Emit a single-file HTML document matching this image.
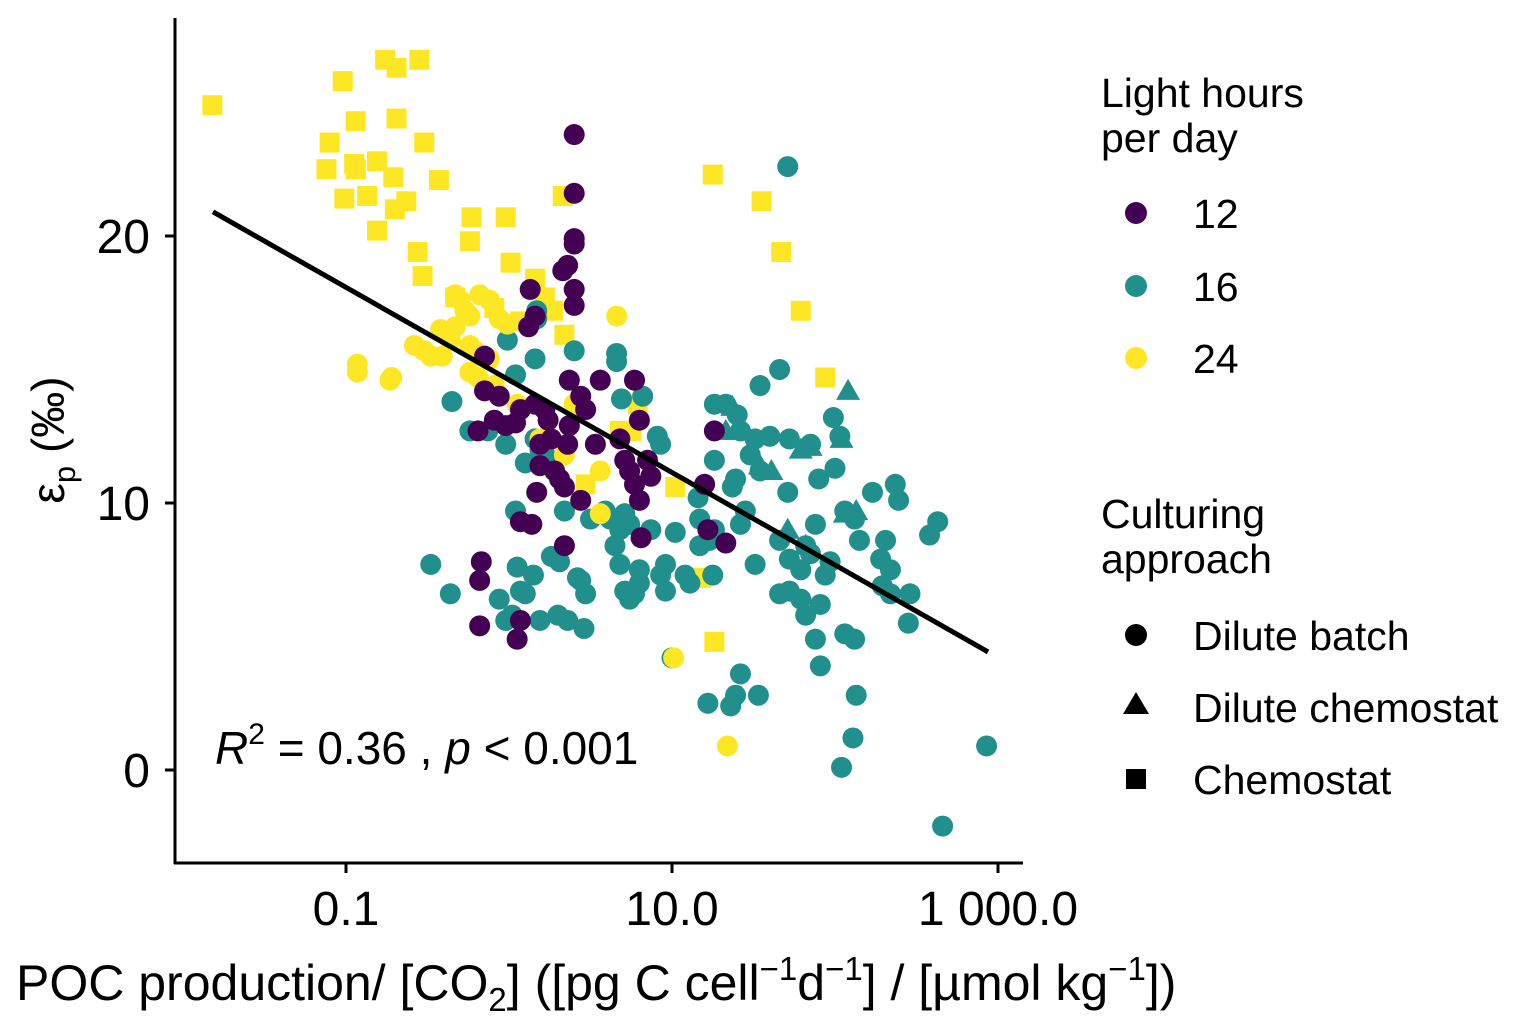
<!DOCTYPE html>
<html><head><meta charset="utf-8"><style>
html,body{margin:0;padding:0;background:#fff}
svg{display:block;font-family:"Liberation Sans",Arial,sans-serif}
</style></head><body>
<svg id="chart" width="1524" height="1028" viewBox="0 0 1524 1028">
<g id="points"></g>
<g id="axes"></g>
<text x="215" y="764" font-size="46"><tspan font-style="italic">R</tspan><tspan font-size="30" dy="-20">2</tspan><tspan dy="20"> = 0.36 , </tspan><tspan font-style="italic">p</tspan><tspan> &lt; 0.001</tspan></text>
<text x="16" y="1000" font-size="50">POC production/ [CO<tspan font-size="33" dy="11">2</tspan><tspan dy="-11">] ([pg C cell</tspan><tspan font-size="33" dy="-20">−1</tspan><tspan dy="20">d</tspan><tspan font-size="33" dy="-20">−1</tspan><tspan dy="20">] / [µmol kg</tspan><tspan font-size="33" dy="-20">−1</tspan><tspan dy="20">])</tspan></text>
<text transform="translate(64,440) rotate(-90)" text-anchor="middle" font-size="46">ε<tspan font-size="31" dy="11">p</tspan><tspan dy="-11"> (‰)</tspan></text>
<g>
<text x="1101" y="107" font-size="41">Light hours</text>
<text x="1101" y="152" font-size="41">per day</text>
<circle cx="1136" cy="213" r="11" fill="#440154"/>
<text x="1193" y="228" font-size="41">12</text>
<circle cx="1136" cy="286" r="11" fill="#21908C"/>
<text x="1193" y="301" font-size="41">16</text>
<circle cx="1136" cy="358" r="11" fill="#FDE725"/>
<text x="1193" y="373" font-size="41">24</text>
</g>
<g>
<text x="1101" y="528" font-size="41">Culturing</text>
<text x="1101" y="573" font-size="41">approach</text>
<circle cx="1136" cy="635" r="11" fill="#000"/>
<text x="1193" y="650" font-size="41">Dilute batch</text>
<polygon points="1136,692 1149,714 1123,714" fill="#000"/>
<text x="1193" y="722" font-size="41">Dilute chemostat</text>
<rect x="1126" y="769" width="20" height="20" fill="#000"/>
<text x="1193" y="794" font-size="41">Chemostat</text>
</g>
</svg>
<script>
// x values stored as log10(POC production / [CO2])
const ySqX=[-1.82,-1.02,-0.76,-0.69,-0.55,-0.94,-1.10,-1.12,-0.95,-0.94,-0.81,-0.71,-0.87,-1.01,-0.69,-0.52,-0.63,-0.70,-0.43,-0.81,-0.56,-0.23,-0.24,-0.02,0.01,-0.53,0.16,0.22,-0.33,0.07,0.33,0.34,1.25,1.55,1.67,1.79,1.94,0.79,0.68,0.75,1.26,1.02,0.47,1.18,-0.09,0.27];
const ySqY=[24.9,25.8,26.6,26.3,26.6,24.3,23.5,22.5,22.7,22.5,22.8,22.2,21.5,21.4,24.4,23.5,21.3,21.0,22.1,20.2,19.4,20.7,19.8,20.7,19.0,18.5,18.4,17.7,17.7,16.8,21.5,16.3,22.3,21.3,19.4,17.2,14.7,13.7,12.7,12.7,4.8,10.6,10.7,7.2,17.3,17.2];
const yCiX=[-0.93,-0.93,-0.72,-0.73,-0.58,-0.52,-0.48,-0.41,-0.33,-0.30,-0.27,-0.24,-0.18,-0.12,-0.06,-0.01,-0.33,-0.42,-0.36,-0.24,-0.21,-0.12,-0.24,-0.19,-0.09,0.05,0.66,1.34,0.40,0.56,1.01,0.34,0.56,0.19];
const yCiY=[15.2,14.9,14.7,14.6,15.9,15.7,15.5,15.5,17.8,17.6,17.2,17.0,17.8,17.6,16.9,16.7,16.6,16.5,16.1,15.9,15.7,15.4,14.9,14.7,14.4,13.7,17.0,0.9,13.7,11.2,4.2,11.8,9.6,12.4];
const pX=[0.40,0.40,0.40,0.40,0.40,0.40,0.36,0.33,0.13,0.16,0.12,-0.15,-0.15,-0.06,-0.19,-0.09,-0.02,0.04,0.07,0.16,0.22,0.24,0.19,0.26,0.19,0.28,0.31,0.34,0.17,0.07,0.14,-0.17,-0.18,-0.18,0.05,0.07,0.37,0.44,0.47,0.56,0.37,0.36,0.68,0.71,0.74,0.77,0.80,0.87,0.77,0.80,0.85,0.81,0.44,1.26,1.33,1.22,0.34,0.53,1.20];
const pY=[23.8,21.6,19.7,19.9,18.0,17.4,18.9,18.7,18.0,17.0,16.6,15.5,14.2,14.0,12.7,13.1,12.9,13.0,13.5,13.7,13.5,13.1,12.2,12.4,11.4,11.2,10.9,10.6,10.4,9.3,9.2,7.8,7.1,5.4,4.9,5.6,14.6,14.0,13.5,14.6,12.9,12.2,12.4,11.6,11.2,10.7,10.1,11.0,14.6,13.1,11.6,8.7,10.1,12.7,8.5,9.0,8.4,12.2,10.7];
const tX=[1.71,1.66,0.40,0.17,0.17,-0.01,0.16,0.04,-0.35,-0.24,-0.13,-0.02,0.16,0.19,0.22,0.25,0.10,0.04,-0.48,-0.36,-0.06,-0.02,0.02,0.05,0.07,0.10,0.26,0.31,0.30,0.36,0.44,0.47,0.46,0.66,0.66,0.82,0.69,0.59,0.62,0.68,0.65,0.71,0.74,0.74,0.77,0.68,0.71,0.80,0.80,0.96,0.93,0.96,0.87,1.00,0.91,0.93,1.08,1.11,1.17,1.25,1.23,1.26,1.26,1.33,1.40,1.42,1.51,1.60,1.48,1.54,1.39,1.45,1.37,1.17,1.26,1.42,1.51,1.66,1.72,1.79,1.82,1.85,1.88,1.71,1.72,1.85,1.99,2.03,2.00,1.90,1.66,1.72,1.79,1.82,1.91,1.88,1.91,1.94,1.97,2.06,2.12,2.15,2.06,2.12,2.13,2.11,2.04,2.23,2.28,2.31,2.34,2.37,2.39,2.29,2.34,2.46,2.45,2.58,2.63,1.22,1.39,1.36,1.53,1.42,1.54,1.16,1.02,2.66,2.93,0.42,0.15,0.19,0.34,0.50];
const tY=[22.6,15.0,15.7,17.2,16.9,16.1,15.4,14.8,13.8,12.7,12.7,12.2,12.4,12.0,11.8,11.6,11.5,9.7,7.7,6.6,6.4,5.6,5.8,7.6,6.7,6.6,8.0,7.8,5.8,5.6,7.1,6.6,5.3,15.6,15.3,14.0,13.9,9.7,9.4,9.0,8.4,9.6,9.2,6.4,6.6,7.7,6.7,7.5,7.0,7.7,7.3,6.7,9.0,4.2,12.5,12.2,7.3,7.0,8.4,7.3,8.6,11.6,13.7,13.7,13.3,12.7,12.4,12.5,11.8,11.2,10.9,9.7,10.6,9.4,9.0,9.2,7.7,8.6,7.9,7.5,8.4,8.1,9.2,10.4,12.4,12.2,13.2,12.5,11.3,10.9,6.6,6.7,6.4,5.8,6.2,4.9,3.9,7.3,7.8,9.7,9.4,8.6,5.1,4.9,2.8,1.2,0.1,10.4,7.9,8.6,7.5,10.7,10.1,6.9,6.6,6.6,5.5,8.8,9.3,2.5,2.8,2.4,2.8,3.6,14.4,10.2,8.9,-2.1,0.9,7.2,7.3,5.6,9.7,9.4];
const triX=[2.08,1.37,1.39,1.33,1.79,1.85,1.54,1.61,1.71,2.06,2.13,2.04,1.82];
const triY=[14.2,13.6,12.7,12.7,12.0,12.1,11.4,11.2,9.0,9.6,9.7,12.4,8.4];
const fitX=[-1.816,2.939];
const fitIntercept=14.61, fitSlope=-3.466;
const xTicks=[-1,1,3];
const xTickLabels=["0.1","10.0","1 000.0"];
const yTicks=[0,10,20];
const yTickLabels=["0","10","20"];

const NS="http://www.w3.org/2000/svg";
const sx=e=>509+e*163;
const sy=v=>770-v*26.7;
const pts=document.getElementById('points');
const axes=document.getElementById('axes');
function mk(tag,attrs,parent){const el=document.createElementNS(NS,tag);for(const k in attrs)el.setAttribute(k,attrs[k]);parent.appendChild(el);return el;}
function circ(xs,ys,col,nm){xs.forEach((x,i)=>{const c=mk('circle',{cx:sx(x),cy:sy(ys[i]),r:10.5,fill:col},pts);

});}
function sq(xs,ys,col,nm){xs.forEach((x,i)=>{const c=mk('rect',{x:sx(x)-10,y:sy(ys[i])-10,width:20,height:20,fill:col},pts);

});}
function tri(xs,ys,col,nm){xs.forEach((x,i)=>{const X=sx(x),Y=sy(ys[i]);const c=mk('polygon',{points:`${X},${Y-12} ${X+12},${Y+9} ${X-12},${Y+9}`,fill:col},pts);

});}
sq(ySqX,ySqY,'#FDE725','point-24h-chemostat');
circ(tX,tY,'#21908C','point-16h-batch');
tri(triX,triY,'#21908C','point-16h-dilute-chemostat');
circ(yCiX,yCiY,'#FDE725','point-24h-batch');
circ(pX,pY,'#440154','point-12h-batch');
const fl=mk('line',{x1:sx(fitX[0]),y1:sy(fitIntercept+fitSlope*fitX[0]),x2:sx(fitX[1]),y2:sy(fitIntercept+fitSlope*fitX[1]),stroke:'#000','stroke-width':5},pts);


const ya=mk('line',{x1:175,y1:18,x2:175,y2:864,stroke:'#000','stroke-width':3},axes);


const xa=mk('line',{x1:174,y1:863,x2:1023,y2:863,stroke:'#000','stroke-width':3},axes);


yTicks.forEach((v,i)=>{const t=mk('line',{x1:165,y1:sy(v),x2:175,y2:sy(v),stroke:'#000','stroke-width':3},axes);


const l=mk('text',{x:150,y:sy(v)+17,'text-anchor':'end','font-size':48},axes);l.textContent=yTickLabels[i];

});
xTicks.forEach((v,i)=>{const t=mk('line',{x1:sx(v),y1:863,x2:sx(v),y2:873,stroke:'#000','stroke-width':3},axes);


const l=mk('text',{x:sx(v),y:925,'text-anchor':'middle','font-size':48},axes);l.textContent=xTickLabels[i];

});
</script>
</body></html>
